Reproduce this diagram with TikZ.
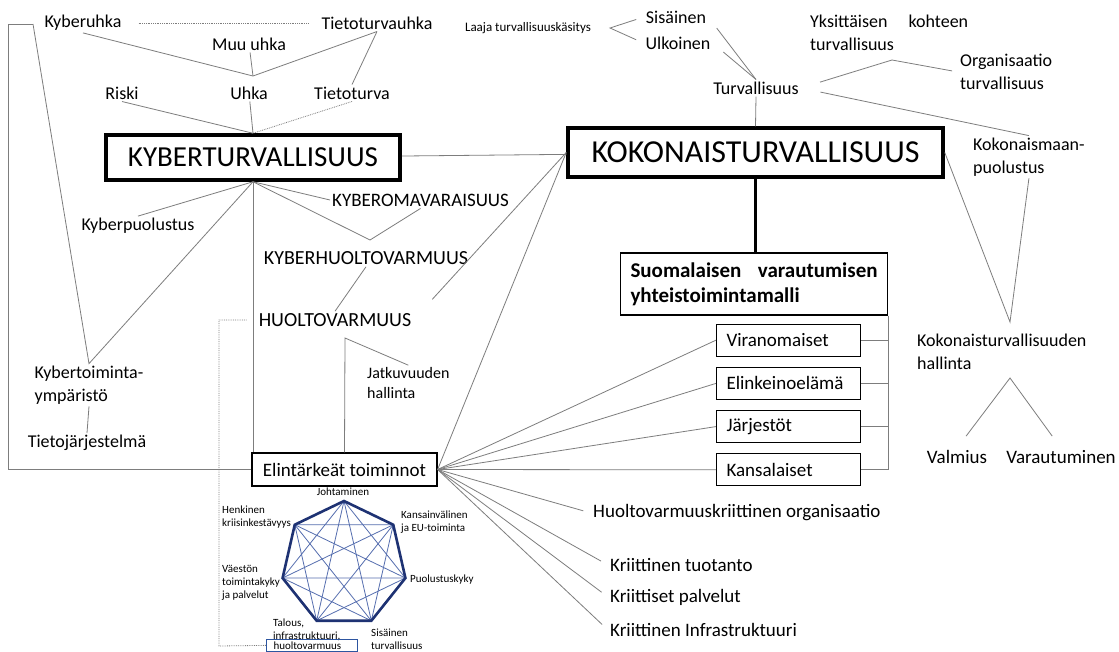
\documentclass[tikz,border=0pt]{standalone}
\usepackage{fontspec}
\setmainfont{Carlito}
\usetikzlibrary{positioning,calc}
\definecolor{linegray}{RGB}{125,125,125}
\definecolor{hepnavy}{RGB}{30,50,115}
\definecolor{hepblue}{RGB}{85,110,175}
\definecolor{boxblue}{RGB}{45,85,160}

\begin{document}
\begin{tikzpicture}[x=1pt,y=-1pt,
        lbl/.style={font=\fontsize{18}{23}\selectfont,inner sep=2pt,align=left},
        caps/.style={font=\fontsize{20}{24}\selectfont,inner sep=2pt},
        tiny/.style={font=\fontsize{11}{13}\selectfont,inner sep=1pt,align=left},
        fan/.style={font=\fontsize{19}{23}\selectfont,inner sep=2pt,anchor=west},
        mainbox/.style={draw,line width=3.5pt,inner sep=0pt},
        box/.style={draw,line width=1.2pt,font=\fontsize{19}{23}\selectfont},
        actor/.style={box,text width=124pt,inner xsep=10pt,minimum height=32pt,align=left},
        line/.style={draw=linegray,line width=0.8pt},
        dotline/.style={line,densely dotted},
        hepedge/.style={draw=hepnavy,line width=2.6pt},
        hepdiag/.style={draw=hepblue,line width=0.8pt}]
        \path[use as bounding box,fill=white] (0,0) rectangle (1119,651);

        \node[lbl] (kyberuhka) at (83,23) {Kyberuhka};
        \node[lbl] (tietoturvauhka) at (377,23) {Tietoturvauhka};
        \node[lbl] (muuuhka) at (249,44) {Muu uhka};
        \node[lbl] (riski) at (122,93) {Riski};
        \node[lbl] (uhka) at (249,93) {Uhka};
        \node[lbl] (tietoturva) at (352,93) {Tietoturva};
        \node[mainbox,minimum width=294pt,minimum height=45pt,font=\fontsize{29}{33}\selectfont] (kyberturva) at (253,157.5) {KYBERTURVALLISUUS};
        \node[lbl] (kyberpuolustus) at (138,226) {Kyberpuolustus};
        \node[caps,font=\fontsize{19}{23}\selectfont,anchor=west] (kyberomavaraisuus) at (330,200) {KYBEROMAVARAISUUS};
        \node[caps] (kyberhuoltovarmuus) at (366,258) {KYBERHUOLTOVARMUUS};
        \node[caps] (huoltovarmuus) at (335,320) {HUOLTOVARMUUS};
        \node[lbl,font=\fontsize{16}{20}\selectfont,anchor=west] (jatkuvuuden) at (365,383) {Jatkuvuuden\\hallinta};
        \node[lbl] (kybertoiminta) at (89,385) {Kybertoiminta-\\ympäristö};
        \node[lbl] (tietojarjestelma) at (87,443) {Tietojärjestelmä};
        \node[box,minimum width=185pt,minimum height=33pt] (elintarkeat) at (344.5,469.5) {Elintärkeät toiminnot};

        \node[lbl,font=\fontsize{13}{15}\selectfont] (laaja) at (528,28) {Laaja turvallisuuskäsitys};
        \node[lbl] (sisainen) at (676,17) {Sisäinen};
        \node[lbl] (ulkoinen) at (678,43) {Ulkoinen};
        \node[lbl] (turvallisuus) at (756,88) {Turvallisuus};
        \node[lbl,text width=158pt,anchor=west] (yksittaisen) at (808,33) {Yksittäisen\hfill kohteen\\turvallisuus};
        \node[lbl,anchor=west] (organisaatio) at (958,72) {Organisaatio\\turvallisuus};
        \node[lbl,anchor=west] (kokonaismaan) at (971,157) {Kokonaismaan-\\puolustus};
        \node[mainbox,minimum width=375pt,minimum height=49pt,font=\fontsize{32}{37}\selectfont] (kokonais) at (755.5,152.5) {KOKONAISTURVALLISUUS};
        \node[box,text width=247pt,inner xsep=10pt,minimum height=62pt,align=left,font=\bfseries\fontsize{21}{25}\selectfont] (suomalaisen) at (754,284) {Suomalaisen\hfill varautumisen\\yhteistoimintamalli};
        \node[actor,below left=8pt and 27pt of suomalaisen.south east] (viranomaiset) {Viranomaiset};
        \node[actor,below=10pt of viranomaiset] (elinkeinoelama) {Elinkeinoelämä};
        \node[actor,below=10pt of elinkeinoelama] (jarjestot) {Järjestöt};
        \node[actor,below=10pt of jarjestot] (kansalaiset) {Kansalaiset};
        \node[lbl,anchor=west] (kokonaishallinta) at (915,352) {Kokonaisturvallisuuden\\hallinta};
        \node[lbl,font=\fontsize{19}{23}\selectfont] (valmius) at (957,457) {Valmius};
        \node[lbl,font=\fontsize{19}{23}\selectfont] (varautuminen) at (1061,457) {Varautuminen};
        \node[fan] (hvkriittinen) at (591,513) {Huoltovarmuuskriittinen organisaatio};
        \node[fan] (tuotanto) at (608,565) {Kriittinen tuotanto};
        \node[fan] (palvelut) at (608,597) {Kriittiset palvelut};
        \node[fan] (infra) at (608,630) {Kriittinen Infrastruktuuri};

        \node[tiny] (johtaminen) at (343,492) {Johtaminen};
        \node[tiny,anchor=west] (henkinen) at (221,517.5) {Henkinen\\kriisinkestävyys};
        \node[tiny,anchor=west] (kansainvalinen) at (400,522) {Kansainvälinen\\ja EU-toiminta};
        \node[tiny,anchor=west] (puolustuskyky) at (409,580) {Puolustuskyky};
        \node[tiny,anchor=west] (vaeston) at (221,582.5) {Väestön\\toimintakyky\\ja palvelut};
        \node[tiny,anchor=west] (talous) at (272,629.5) {Talous,\\infrastruktuuri,};
        \node[tiny,draw=boxblue,line width=1pt,anchor=north west,text width=77pt,inner xsep=7pt,inner ysep=2pt] (hvbox) at (266,639) {huoltovarmuus};
        \node[tiny,anchor=west] (sisturva) at (370,639.5) {Sisäinen\\turvallisuus};

        \coordinate (kb) at (33,24);
        \coordinate (brk) at (8,24);
        \coordinate (uj) at (253,76);
        \coordinate (kh) at (370,240);
        \coordinate (hv) at (345,338);
        \coordinate (hvturn) at (219,646);
        \coordinate (lv) at (610,28);
        \coordinate (jo) at (892,60);
        \coordinate (kj) at (1010,322);
        \coordinate (ka) at (1010,378);
        \coordinate (hc) at (344,564);

        \draw[dotline,shorten <=15pt,shorten >=10pt] (kyberuhka) -- (tietoturvauhka);
        \draw[line] (kyberuhka.south) -- (uj) -- (tietoturvauhka.south);
        \draw[line] (muuuhka) -- (uj);
        \draw[line] (tietoturvauhka.south) -- (tietoturva.north);
        \draw[line] (riski.south) -- (kyberturva.north);
        \draw[line] (uhka) -- (kyberturva.north);
        \draw[dotline] (tietoturva.south) -- (kyberturva.north);
        \draw[line] (kyberturva) -- (kokonais);
        \draw[line] (kyberpuolustus.north) -- (kyberturva.south);
        \draw[line] (kb) -- (kybertoiminta.north) -- (kyberturva.south);
        \draw[line] (kyberturva.south) -- (kyberturva.south |- elintarkeat.north);
        \draw[line] (kyberturva.south) -- (kyberomavaraisuus.west);
        \draw[line] (kyberturva.south) -- (kh) -- (kyberomavaraisuus.south);
        \draw[line] (kyberhuoltovarmuus.south) -- (huoltovarmuus.north);
        \draw[line] (jatkuvuuden.north) -- (hv) -- (elintarkeat.north);
        \draw[line] (kybertoiminta.south) -- (tietojarjestelma.north);
        \draw[line] (elintarkeat.west) -| (brk) -- (kb);
        \draw[dotline,shorten <=10pt] (huoltovarmuus.west) -| (hvturn) -- (hvbox.west);
        \draw[line,shorten <=28pt] (huoltovarmuus.east) -- (kokonais.west);
        \draw[line] (elintarkeat.east) -- (kokonais.west);

        \draw[line,shorten <=8pt,shorten >=8pt] (sisainen.west) -- (lv) -- (ulkoinen.west);
        \draw[line,shorten <=14pt] (sisainen.east) -- (turvallisuus.north);
        \draw[line,shorten <=14pt] (ulkoinen.east) -- (turvallisuus.north);
        \draw[line] (turvallisuus.south) -- (kokonais.north);
        \draw[line,shorten <=20pt,shorten >=6pt] (turvallisuus.east) -- (jo) -- (organisaatio.west);
        \draw[line,shorten <=20pt] (turvallisuus.east) -- (kokonaismaan.north);
        \draw[line] (kokonais.east) -- (kj) -- (kokonaismaan.south);
        \draw[line,shorten <=15pt,shorten >=15pt] (valmius.north) -- (ka) -- (varautuminen.north);
        \draw[line width=3.5pt] (kokonais.south) -- (kokonais.south |- suomalaisen.north);
        \draw[line] (suomalaisen.south east) -- (suomalaisen.south east |- kansalaiset.east) -- (kansalaiset.east);
        \foreach \n in {viranomaiset,elinkeinoelama,jarjestot}
            \draw[line] (\n.east) -- (\n.east -| suomalaisen.east);
        \foreach \n in {viranomaiset,elinkeinoelama,jarjestot,kansalaiset}
            \draw[line] (elintarkeat.east) -- (\n.west);
        \foreach \n in {hvkriittinen,tuotanto,palvelut,infra}
            \draw[line,shorten >=8pt] (elintarkeat.east) -- (\n.west);

        \foreach \i in {0,...,6}
            \coordinate (h\i) at ($(hc)+(90-\i*360/7:63pt)$);
        \foreach \i in {0,...,6}
            \foreach \j in {2,3}
                {\pgfmathtruncatemacro\k{mod(\i+\j,7)}
                 \draw[hepdiag] (h\i) -- (h\k);}
        \draw[hepedge] (h0) -- (h1) -- (h2) -- (h3) -- (h4) -- (h5) -- (h6) -- cycle;
    \end{tikzpicture}
\end{document}
